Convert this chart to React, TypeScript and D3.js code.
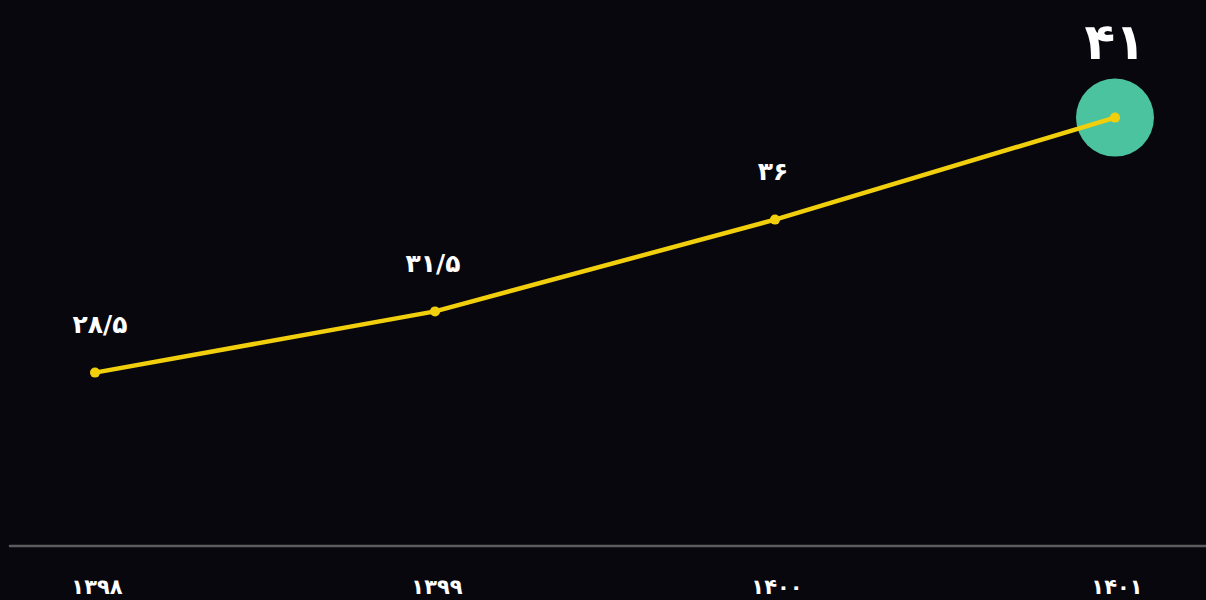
import React from "react";
import * as d3 from "d3";

const years = ["۱۳۹۸", "۱۳۹۹", "۱۴۰۰", "۱۴۰۱"];
const values = [28.5, 31.5, 36, 41];
const valueLabels = ["۲۸/۵", "۳۱/۵", "۳۶", "۴۱"];

const W = 1206;
const H = 600;

export default function App() {
  const x = d3.scalePoint<string>().domain(years).range([95, 1115]);
  const y = d3.scaleLinear().domain([20, 45]).range([546, 36]);

  const pts: [number, number][] = years.map((yr, i) => [x(yr)!, y(values[i])]);
  const line = d3.line<[number, number]>()(pts) || "";
  const last = pts.length - 1;
  const font = "'DejaVu Sans', sans-serif";

  return (
    <div style={{ position: "fixed", left: 0, top: 0, width: W, height: H }}>
      <svg width={W} height={H} style={{ display: "block" }}>
        <rect width={W} height={H} fill="#07070d" />
        {/* baseline */}
        <line x1={10} x2={W} y1={y(20)} y2={y(20)} stroke="#5c5c60" strokeWidth={2.5} strokeLinecap="round" />
        {/* highlight on latest year */}
        <circle cx={pts[last][0]} cy={pts[last][1]} r={39} fill="#4cc39f" />
        <path d={line} fill="none" stroke="#f2cf0c" strokeWidth={4.5} strokeLinecap="round" strokeLinejoin="round" />
        {pts.map((p, i) => (
          <circle key={"d" + i} cx={p[0]} cy={p[1]} r={5} fill="#f2cf0c" />
        ))}
        {/* value labels */}
        {pts.map((p, i) =>
          i === last ? (
            <text
              key={"v" + i}
              x={p[0]}
              y={p[1] - 76}
              textAnchor="middle"
              dominantBaseline="central"
              fill="#ffffff"
              fontFamily={font}
              fontWeight="bold"
              fontSize={50}
            >
              {valueLabels[i]}
            </text>
          ) : (
            <text
              key={"v" + i}
              x={p[0] + (i === 0 ? 5 : -2)}
              y={p[1] - 48}
              textAnchor="middle"
              dominantBaseline="central"
              fill="#ffffff"
              fontFamily={font}
              fontWeight="bold"
              fontSize={25}
            >
              {valueLabels[i]}
            </text>
          )
        )}
        {/* year labels */}
        {years.map((yr) => (
          <text
            key={yr}
            x={x(yr)! + 2}
            y={587}
            textAnchor="middle"
            dominantBaseline="central"
            fill="#ffffff"
            fontFamily={font}
            fontWeight="bold"
            fontSize={21}
          >
            {yr}
          </text>
        ))}
      </svg>
    </div>
  );
}
